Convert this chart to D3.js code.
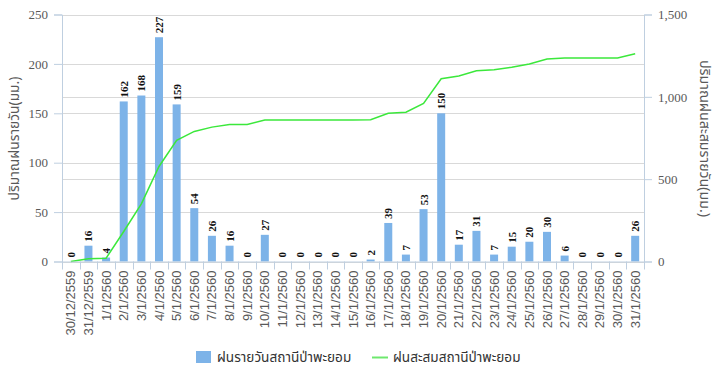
<!DOCTYPE html>
<html><head><meta charset="utf-8">
<script src="https://cdn.jsdelivr.net/npm/d3@7"></script>
<style>body{margin:0;background:#fff}svg{display:block}</style>
</head><body><svg id="c" width="719" height="369"></svg>
<script>
const categories = ["30/12/2559","31/12/2559","1/1/2560","2/1/2560","3/1/2560","4/1/2560","5/1/2560","6/1/2560","7/1/2560","8/1/2560","9/1/2560","10/1/2560","11/1/2560","12/1/2560","13/1/2560","14/1/2560","15/1/2560","16/1/2560","17/1/2560","18/1/2560","19/1/2560","20/1/2560","21/1/2560","22/1/2560","23/1/2560","24/1/2560","25/1/2560","26/1/2560","27/1/2560","28/1/2560","29/1/2560","30/1/2560","31/1/2560"];
const dailyRain = [0,16,4,162,168,227,159,54,26,16,0,27,0,0,0,0,0,2,39,7,53,150,17,31,7,15,20,30,6,0,0,0,26];
const cumulativeRain = [0,16,20,182,350,577,736,790,816,832,832,859,859,859,859,859,859,861,900,907,960,1110,1127,1158,1165,1180,1200,1230,1236,1236,1236,1236,1262];
const leftTicks = [0,50,100,150,200,250];
const rightTicks = [0,500,1000,1500];
const seriesNames = ["ฝนรายวันสถานีป่าพะยอม","ฝนสะสมสถานีป่าพะยอม"];
const leftTitle = "ปริมาณฝนรายวัน(มม.)";
const rightTitle = "ปริมาณฝนสะสมรายวัน(มม.)";

const svg = d3.select("#c");
const m = {l:62, r:75, t:14.5, b:107.5};
const W = 719, H = 369;
const x = d3.scaleBand().domain(categories).range([m.l, W - m.r]);
const yL = d3.scaleLinear().domain([0,250]).range([H - m.b, m.t]);
const yR = d3.scaleLinear().domain([0,1500]).range([H - m.b, m.t]);
const thai = "Tahoma, 'Noto Sans Thai', 'Noto Sans', sans-serif";
const numFont = "'Liberation Serif', 'DejaVu Serif', serif";
const gridC = "#d9d9d9", axC = "#bfcfe0";

const grid = svg.append("g");
leftTicks.forEach(v => grid.append("line").attr("x1", m.l).attr("x2", W - m.r)
  .attr("y1", Math.round(yL(v))+0.5).attr("y2", Math.round(yL(v))+0.5).attr("stroke", gridC));
rightTicks.forEach(v => grid.append("line").attr("x1", m.l).attr("x2", W - m.r)
  .attr("y1", Math.round(yR(v))+0.5).attr("y2", Math.round(yR(v))+0.5).attr("stroke", gridC));

const bw = 8;
svg.append("g").selectAll("rect").data(dailyRain).join("rect")
  .attr("x", (d,i) => x(categories[i]) + x.bandwidth()/2 - bw/2)
  .attr("width", bw)
  .attr("y", d => yL(d))
  .attr("height", d => yL(0) - yL(d))
  .attr("fill", "#7db3e8");

const line = d3.line().x((d,i) => x(categories[i]) + x.bandwidth()/2).y(d => yR(d));
svg.append("path").datum(cumulativeRain).attr("d", line)
  .attr("fill", "none").attr("stroke", "#3be83b").attr("stroke-width", 1.5);

svg.append("g").selectAll("text").data(dailyRain).join("text")
  .attr("transform", (d,i) => `translate(${x(categories[i]) + x.bandwidth()/2 + 4},${yL(d) - 4}) rotate(-90)`)
  .attr("font-family", numFont).attr("font-weight", "bold").attr("font-size", 11)
  .attr("fill", "#111").text(d => d);

const la = svg.append("g").attr("transform", `translate(${m.l},0)`)
  .call(d3.axisLeft(yL).tickValues(leftTicks).tickSize(8).tickPadding(6));
la.selectAll("text").attr("font-family", numFont).attr("font-size", 13).attr("fill", "#595959");
const ra = svg.append("g").attr("transform", `translate(${W - m.r},0)`)
  .call(d3.axisRight(yR).tickValues(rightTicks).tickSize(8).tickPadding(6).tickFormat(d3.format(",")));
ra.selectAll("text").attr("font-family", numFont).attr("font-size", 13).attr("fill", "#595959");
const ba = svg.append("g").attr("transform", `translate(0,${H - m.b})`)
  .call(d3.axisBottom(x).tickSize(0).tickPadding(0));
ba.selectAll(".tick text")
  .attr("transform", "translate(0,9) rotate(-90)")
  .attr("text-anchor", "end").attr("dy", "0.35em").attr("dx", 0).attr("y", 0).attr("x", 0)
  .attr("font-family", "'Liberation Sans', 'DejaVu Sans', sans-serif").attr("font-size", 13).attr("fill", "#595959");
categories.concat([null]).forEach((c,i) => {
  const xx = Math.round(m.l + i * x.bandwidth()) + 0.5;
  ba.append("line").attr("x1", xx).attr("x2", xx).attr("y1", 0).attr("y2", 8).attr("stroke", axC);
});
[la, ra, ba].forEach(g => { g.selectAll("path.domain, .tick line").attr("stroke", axC); });

svg.append("text").attr("transform", `translate(19,138.5) rotate(-90)`)
  .attr("text-anchor", "middle").attr("font-family", thai).attr("font-size", 13.8).attr("fill", "#595959").text(leftTitle);
svg.append("text").attr("transform", `translate(700,138.5) rotate(90)`)
  .attr("text-anchor", "middle").attr("font-family", thai).attr("font-size", 14.2).attr("fill", "#595959").text(rightTitle);

const lg = svg.append("g");
lg.append("rect").attr("x", 196).attr("y", 351).attr("width", 15).attr("height", 12).attr("fill", "#7db3e8");
lg.append("text").attr("x", 217).attr("y", 362).attr("font-family", thai).attr("font-size", 13.6).attr("fill", "#333").text(seriesNames[0]);
lg.append("line").attr("x1", 372).attr("x2", 388).attr("y1", 357.5).attr("y2", 357.5).attr("stroke", "#6ee86e").attr("stroke-width", 2);
lg.append("text").attr("x", 393).attr("y", 362).attr("font-family", thai).attr("font-size", 13.6).attr("fill", "#333").text(seriesNames[1]);
</script></body></html>
